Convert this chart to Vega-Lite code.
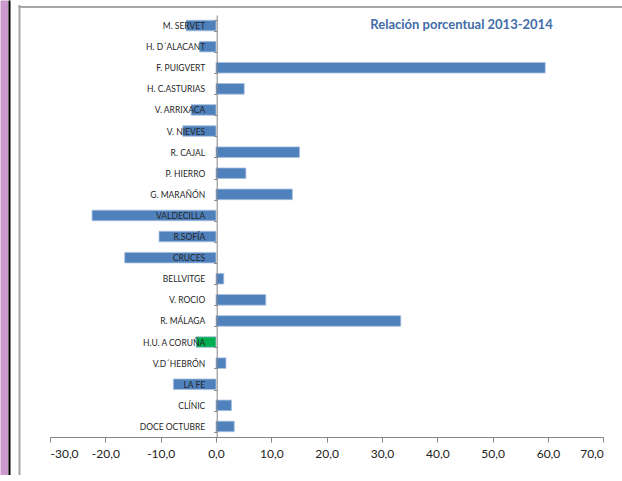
{
  "$schema": "https://vega.github.io/schema/vega-lite/v6.json",
  "usermeta": {"embedOptions": {"actions": false}},
  "width": 603,
  "height": 469,
  "autosize": {"type": "none"},
  "padding": {"left": 19, "top": 6, "right": 0, "bottom": 0},
  "background": "white",
  "config": {
    "view": {"stroke": null},
    "font": "Lato"
  },
  "title": {
    "text": "Relación porcentual 2013-2014",
    "anchor": "middle",
    "frame": "group",
    "dx": 141,
    "offset": -36,
    "baseline": "middle",
    "fontSize": 13,
    "fontWeight": "bold",
    "color": "#426ca8",
    "font": "Lato"
  },
  "resolve": {
    "scale": {"y": "independent", "x": "independent"},
    "axis": {"y": "independent", "x": "independent"}
  },
  "layer": [
    {
      "data": {"values": []},
      "mark": {"type": "rule", "opacity": 0},
      "encoding": {
        "y": {
          "field": "v", "type": "quantitative",
          "scale": {"domain": [0, 1], "range": [-6, 469]},
          "axis": {"orient": "left", "offset": 15, "domainColor": "#cc99cc", "domainWidth": 8, "ticks": false, "labels": false, "grid": false, "title": null}
        }
      }
    },
    {
      "data": {"values": []},
      "mark": {"type": "rule", "opacity": 0},
      "encoding": {
        "y": {
          "field": "v", "type": "quantitative",
          "scale": {"domain": [0, 1], "range": [-6, 469]},
          "axis": {"orient": "left", "offset": 10, "domainColor": "#000000", "domainWidth": 2, "ticks": false, "labels": false, "grid": false, "title": null}
        }
      }
    },
    {
      "data": {"values": []},
      "mark": {"type": "rule", "opacity": 0},
      "encoding": {
        "y": {
          "field": "v", "type": "quantitative",
          "scale": {"domain": [0, 1], "range": [-1.5, 469]},
          "axis": {"orient": "left", "offset": 0, "domainColor": "#a6a6a6", "domainWidth": 2, "ticks": false, "labels": false, "grid": false, "title": null}
        }
      }
    },
    {
      "data": {"values": []},
      "mark": {"type": "rule", "opacity": 0},
      "encoding": {
        "x": {
          "field": "v", "type": "quantitative",
          "scale": {"domain": [0, 1], "range": [-1, 603]},
          "axis": {"orient": "top", "offset": -0.5, "domainColor": "#a6a6a6", "domainWidth": 2, "ticks": false, "labels": false, "grid": false, "title": null}
        }
      }
    },
    {
      "data": {
        "values": [
          {"hospital": "M. SERVET", "valor": -5.4, "tipo": "a"},
          {"hospital": "H. D´ALACANT", "valor": -3.0, "tipo": "a"},
          {"hospital": "F. PUIGVERT", "valor": 59.5, "tipo": "a"},
          {"hospital": "H. C.ASTURIAS", "valor": 5.1, "tipo": "a"},
          {"hospital": "V. ARRIXACA", "valor": -4.5, "tipo": "a"},
          {"hospital": "V. NIEVES", "valor": -6.0, "tipo": "a"},
          {"hospital": "R. CAJAL", "valor": 15.1, "tipo": "a"},
          {"hospital": "P. HIERRO", "valor": 5.4, "tipo": "a"},
          {"hospital": "G. MARAÑÓN", "valor": 13.8, "tipo": "a"},
          {"hospital": "VALDECILLA", "valor": -22.4, "tipo": "a"},
          {"hospital": "R.SOFÍA", "valor": -10.3, "tipo": "a"},
          {"hospital": "CRUCES", "valor": -16.5, "tipo": "a"},
          {"hospital": "BELLVITGE", "valor": 1.4, "tipo": "a"},
          {"hospital": "V. ROCIO", "valor": 9.0, "tipo": "a"},
          {"hospital": "R. MÁLAGA", "valor": 33.4, "tipo": "a"},
          {"hospital": "H.U. A CORUÑA", "valor": -3.6, "tipo": "b"},
          {"hospital": "V.D´HEBRÓN", "valor": 1.8, "tipo": "a"},
          {"hospital": "LA FE", "valor": -7.7, "tipo": "a"},
          {"hospital": "CLÍNIC", "valor": 2.8, "tipo": "a"},
          {"hospital": "DOCE OCTUBRE", "valor": 3.3, "tipo": "a"}
        ]
      },
      "mark": {"type": "bar", "stroke": "#a8c0de", "strokeWidth": 0.8},
      "encoding": {
        "y": {
          "field": "hospital", "type": "nominal", "sort": null,
          "scale": {"range": [9, 431], "paddingInner": 0.5, "paddingOuter": 0.25},
          "axis": {
            "orient": "left", "offset": -197.7, "title": null,
            "domainColor": "#868686", "tickColor": "#868686", "tickSize": 3, "tickBand": "extent",
            "labelPadding": 9, "labelFontSize": 8.5, "labelColor": "#262626", "labelFont": "Lato",
            "labelLimit": 0, "zindex": 1, "grid": false
          }
        },
        "x": {
          "field": "valor", "type": "quantitative",
          "scale": {"domain": [-30, 70], "range": [31, 584.3], "nice": false},
          "axis": {
            "orient": "bottom", "offset": -38, "title": null, "grid": false,
            "values": [-30, -20, -10, 0, 10, 20, 30, 40, 50, 60, 70],
            "tickSize": 5, "domainColor": "#868686", "tickColor": "#868686",
            "labelExpr": "replace(replace(format(datum.value, '.1f'), '.', ','), '\u2212', '-')",
            "labelFontSize": 12, "labelColor": "#222222", "labelPadding": 6, "labelFont": "Lato", "zindex": 1
          }
        },
        "color": {
          "field": "tipo", "type": "nominal",
          "scale": {"domain": ["a", "b"], "range": ["#4f81bd", "#00b050"]},
          "legend": null
        }
      }
    }
  ]
}
